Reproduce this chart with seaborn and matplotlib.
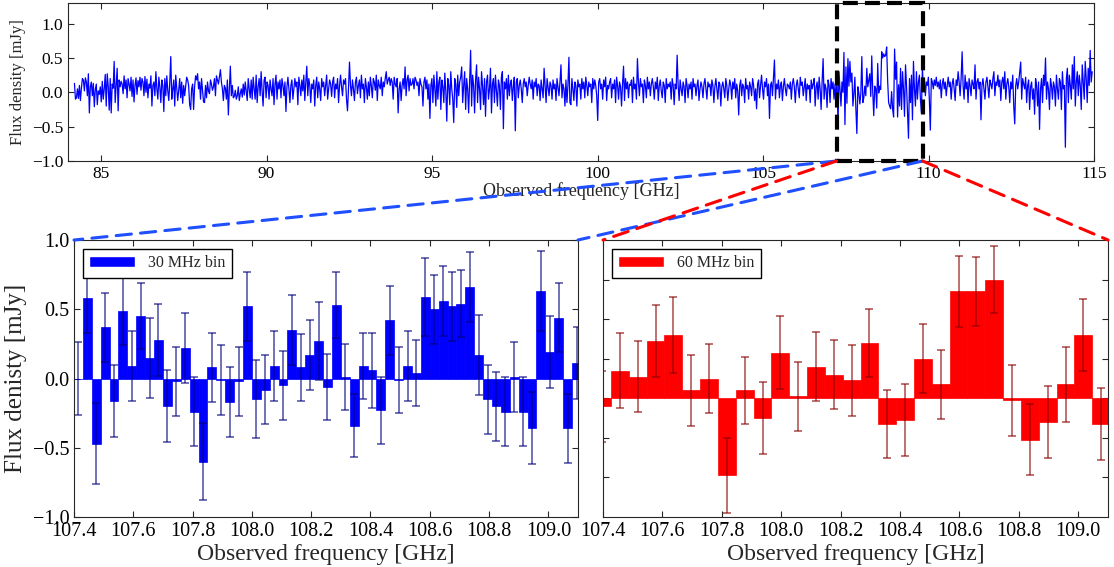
import numpy as np
import matplotlib
matplotlib.use("Agg")
import matplotlib.pyplot as plt
import seaborn as sns
from matplotlib.patches import Rectangle, Patch, ConnectionPatch

# ---------------- data ----------------
bin30_start = 107.415
bin30_step = 0.03
flux30 = [0.00, 0.58, -0.47, 0.37, -0.16, 0.49, 0.09, 0.45, 0.15, 0.28,
          -0.20, -0.02, 0.22, -0.24, -0.60, 0.08, -0.01, -0.17, -0.02, 0.52,
          -0.15, -0.08, 0.09, -0.05, 0.35, 0.08, 0.17, 0.27, -0.06, 0.53,
          0.01, -0.34, 0.09, 0.06, -0.23, 0.42, -0.01, 0.09, 0.04, 0.59,
          0.50, 0.56, 0.52, 0.54, 0.66, 0.17, -0.15, -0.20, -0.24, 0.01,
          -0.24, -0.36, 0.63, 0.19, 0.44, -0.36, 0.11]
err30 = [0.26, 0.25, 0.29, 0.25, 0.26, 0.25, 0.25, 0.24, 0.29, 0.26,
         0.26, 0.25, 0.25, 0.25, 0.28, 0.25, 0.25, 0.25, 0.25, 0.25,
         0.28, 0.25, 0.25, 0.25, 0.25, 0.24, 0.25, 0.28, 0.24, 0.24,
         0.24, 0.23, 0.24, 0.27, 0.24, 0.25, 0.24, 0.25, 0.24, 0.28,
         0.25, 0.25, 0.25, 0.24, 0.25, 0.29, 0.25, 0.25, 0.25, 0.25,
         0.25, 0.26, 0.29, 0.26, 0.25, 0.25, 0.26]

bin60_start = 107.397
bin60_step = 0.06
flux60 = [-0.04, 0.14, 0.11, 0.29, 0.32, 0.04, 0.10, -0.39, 0.04, -0.10,
          0.23, 0.01, 0.16, 0.12, 0.09, 0.28, -0.13, -0.11, 0.20, 0.07,
          0.54, 0.54, 0.60, -0.01, -0.21, -0.12, 0.07, 0.32, -0.13]
err60 = [0.18, 0.19, 0.18, 0.18, 0.19, 0.18, 0.175, 0.19, 0.17, 0.18,
         0.185, 0.175, 0.175, 0.175, 0.18, 0.17, 0.17, 0.18, 0.175, 0.175,
         0.18, 0.175, 0.17, 0.18, 0.18, 0.18, 0.19, 0.18, 0.18]

# full spectrum (30 MHz channels): part below the zoom bins, the zoom bins, part above
spec_low = [
    0.13, -0.10, -0.08, 0.05, -0.09, 0.10, -0.12, 0.06, 0.20, 0.18, 0.02, 0.21, 0.15, -0.05, 0.27, -0.30, 0.08, 0.15, -0.05, 0.13,
    -0.21, 0.04, 0.12, -0.18, 0.02, -0.03, 0.08, -0.14, 0.16, -0.10, 0.05, 0.26, -0.20, 0.27, 0.09, -0.26, 0.20, -0.30, 0.12, 0.06,
    0.45, -0.15, 0.10, 0.35, -0.27, 0.18, 0.08, 0.16, 0.12, -0.02, 0.24, 0.05, 0.18, -0.08, 0.20, 0.12, 0.02, 0.22, -0.06, 0.18,
    -0.14, 0.10, 0.21, -0.03, 0.17, 0.08, 0.22, 0.03, 0.20, 0.15, -0.05, 0.23, 0.00, 0.19, -0.08, 0.12, 0.06, 0.24, -0.20, 0.10,
    0.15, -0.05, 0.30, 0.05, -0.10, 0.22, 0.08, -0.15, 0.18, 0.10, -0.28, 0.20, -0.05, 0.24, 0.02, -0.12, 0.15, 0.52, -0.10, 0.05,
    0.18, -0.20, 0.25, 0.06, -0.12, 0.03, 0.20, -0.08, 0.15, -0.16, 0.10, -0.05, 0.08, 0.22, 0.18, 0.10, -0.18, -0.25, 0.05, 0.12,
    -0.25, 0.08, 0.24, 0.18, 0.27, 0.05, 0.15, -0.10, 0.20, 0.03, -0.14, -0.15, 0.10, -0.08, 0.15, 0.02, -0.02, 0.18, 0.12, 0.03,
    0.08, 0.20, -0.05, 0.24, 0.18, 0.12, 0.22, 0.33, 0.15, 0.05, -0.12, 0.10, 0.06, -0.10, 0.18, -0.33, 0.05, 0.38, -0.05, 0.10,
    -0.08, -0.06, 0.03, -0.10, -0.05, 0.08, -0.12, -0.02, 0.05, -0.07, 0.12, -0.04, 0.15, 0.02, -0.12, 0.20, 0.05, -0.08, 0.18, -0.10,
    0.22, 0.05, -0.10, 0.25, -0.15, 0.08, 0.20, -0.05, 0.30, 0.02, -0.20, 0.18, 0.22, -0.08, 0.15, 0.10, -0.10, 0.18, 0.05, -0.05,
    0.20, -0.18, 0.12, 0.25, -0.10, 0.15, 0.05, 0.18, -0.08, 0.20, 0.10, -0.05, 0.15, -0.28, 0.08, 0.22, 0.05, -0.15, 0.10, 0.18,
    -0.10, 0.05, 0.20, 0.08, 0.15, -0.18, 0.22, 0.10, -0.05, 0.18, 0.02, 0.25, -0.12, 0.15, 0.38, -0.05, 0.20, 0.10, -0.15, 0.12,
    0.05, 0.18, -0.20, 0.10, 0.22, -0.08, 0.15, 0.05, -0.12, 0.20, 0.08, 0.15, -0.05, 0.10, 0.25, -0.10, 0.05, 0.18, 0.12, -0.06,
    0.15, 0.22, -0.08, 0.12, 0.05, 0.20, -0.15, 0.10, 0.25, 0.08, -0.05, 0.18, 0.12, 0.20, -0.10, -0.27, 0.05, 0.44, 0.10, -0.05,
    0.18, 0.05, -0.12, 0.15, 0.22, -0.02, 0.10, 0.18, -0.08, 0.25, 0.05, 0.12, -0.15, 0.20, 0.08, -0.10, 0.15, -0.05, 0.22, 0.10,
    -0.08, 0.20, 0.15, 0.03, 0.25, -0.12, 0.18, 0.10, 0.05, 0.22, -0.05, 0.15, 0.08, 0.20, 0.30, 0.12, 0.18, 0.22, 0.10, 0.20,
    0.15, -0.10, 0.22, 0.12, 0.08, 0.20, -0.30, 0.05, 0.15, -0.12, 0.10, 0.20, 0.05, 0.37, -0.05, 0.18, 0.25, 0.02, 0.20, 0.10,
    0.12, 0.20, 0.05, 0.22, 0.18, 0.10, 0.15, -0.05, 0.20, 0.12, 0.08, -0.20, 0.15, 0.22, 0.05, 0.18, -0.10, 0.12, -0.38, 0.10,
    0.20, -0.15, 0.25, 0.05, -0.20, 0.30, -0.10, 0.15, 0.22, -0.25, 0.18, 0.08, -0.15, 0.28, 0.02, -0.42, 0.20, 0.10, -0.18, 0.30,
    0.05, -0.10, -0.44, 0.20, 0.12, -0.22, 0.25, -0.05, 0.15, 0.22, 0.37, -0.15, 0.10, 0.30, -0.25, 0.20, 0.05, -0.30, 0.15, 0.61,
    -0.20, 0.25, 0.10, -0.30, 0.18, 0.40, -0.15, 0.22, 0.05, -0.25, 0.30, 0.10, -0.18, 0.20, -0.35, 0.15, 0.25, -0.10, 0.05, 0.35,
    -0.30, 0.12, 0.20, -0.15, 0.25, 0.02, -0.20, 0.18, 0.10, -0.25, 0.22, 0.30, -0.53, 0.15, 0.05, 0.20, -0.10, 0.25, -0.05, 0.12,
    0.18, -0.12, 0.08, 0.22, -0.56, 0.15, 0.20, -0.08, 0.10, 0.18, 0.05, -0.15, 0.12, 0.20, 0.08, 0.15, -0.05, 0.10, 0.22, 0.12,
    0.05, 0.18, -0.10, 0.15, 0.08, 0.20, -0.05, 0.12, 0.10, -0.12, 0.18, 0.05, -0.08, 0.35, 0.10, -0.15, 0.20, 0.08, -0.05, 0.15,
    0.10, -0.10, 0.18, 0.05, 0.12, -0.12, 0.20, 0.08, -0.05, 0.15, 0.40, -0.08, 0.12, 0.05, -0.20, 0.18, -0.15, 0.10, 0.51, -0.15,
    -0.18, 0.20, 0.05, -0.12, 0.15, 0.10, -0.20, 0.18, 0.08, 0.12, -0.10, 0.20, 0.05, 0.15, -0.08, 0.22, 0.10, -0.05, 0.15, 0.08,
    0.12, -0.15, 0.20, 0.05, 0.18, 0.10, -0.05, -0.41, 0.15, 0.20, 0.05, 0.12, -0.10, 0.18, 0.08, 0.22, -0.12, 0.10, 0.05, 0.15,
    0.20, -0.08, 0.12, 0.05, 0.18, -0.15, 0.22, 0.10, -0.10, 0.15, 0.08, -0.20, 0.12, 0.38, -0.12, 0.20, 0.05, 0.15, -0.08, 0.12,
    0.10, 0.18, -0.15, 0.22, 0.05, 0.12, -0.10, 0.49, 0.15, -0.05, 0.20, 0.08, 0.12, -0.15, 0.18, 0.10, -0.08, 0.22, 0.05, 0.15,
    -0.05, 0.12, 0.20, 0.08, -0.10, 0.15, 0.05, 0.22, -0.12, 0.10, 0.18, 0.02, -0.08, 0.15, 0.10, -0.15, 0.20, 0.05, 0.12, 0.08,
    0.15, -0.10, 0.20, 0.10, -0.18, 0.12, 0.05, 0.54, 0.10, -0.12, 0.18, 0.05, -0.05, 0.15, 0.08, -0.15, 0.20, 0.10, -0.08, 0.12,
    0.05, 0.15, -0.10, 0.20, 0.08, 0.12, -0.05, 0.10, 0.18, -0.12, 0.05, 0.15, 0.08, -0.08, 0.12, 0.20, 0.05, -0.10, 0.15, 0.08,
    0.12, -0.05, 0.18, 0.10, -0.15, 0.08, 0.20, 0.05, -0.10, 0.15, 0.12, -0.20, 0.08, 0.15, 0.05, -0.08, 0.20, 0.10, -0.12, 0.05,
    0.18, 0.10, -0.10, 0.15, 0.05, 0.20, -0.08, 0.12, 0.02, -0.33, 0.10, 0.18, -0.05, 0.12, 0.08, -0.15, 0.20, 0.05, 0.10, -0.10,
    0.15, 0.08, -0.05, 0.20, 0.10, -0.12, 0.05, -0.24, 0.12, 0.18, -0.08, 0.10, 0.25, 0.05, -0.10, 0.15, 0.08, 0.20, -0.05, 0.12,
    -0.38, 0.10, 0.15, -0.05, 0.20, 0.47, -0.10, 0.12, 0.05, 0.18, -0.08, 0.10, 0.15, -0.12, 0.08, 0.20, 0.05, -0.05, 0.12, 0.10,
    0.05, 0.15, -0.10, 0.12, 0.20, 0.08, -0.15, 0.10, 0.18, 0.05, -0.08, 0.22, 0.10, 0.15, -0.05, 0.08, 0.20, -0.12, 0.12, 0.05,
    0.10, -0.15, 0.18, 0.05, 0.12, 0.20, -0.20, 0.08, 0.15, -0.10, 0.22, 0.05, -0.25, 0.15, 0.49, -0.10, 0.12, 0.05, -0.22, 0.18,
    0.10, -0.15, 0.20, 0.05, 0.15, -0.10, 0.12, -0.18, 0.22, -0.50, 0.30, 0.05, -0.20, 0.15,
]
spec_high = [
    -0.20, 0.35, -0.25, 0.30, 0.05, -0.35, 0.40, 0.10, -0.30, -0.67, 0.20, -0.15, 0.25, -0.40, 0.45, 0.05, -0.20, 0.30, -0.10, 0.15,
    0.25, -0.10, -0.30, 0.35, 0.05, 0.20, -0.05, 0.15, 0.10, 0.22, -0.10, -0.55, 0.20, 0.15, 0.05, 0.18, 0.10, 0.22, 0.08, 0.15,
    0.05, 0.18, -0.08, 0.12, 0.20, 0.05, 0.15, -0.05, 0.10, 0.22, 0.08, 0.15, -0.10, 0.12, 0.20, 0.05, -0.12, 0.18, 0.10, 0.30,
    0.15, -0.05, 0.20, 0.59, 0.10, -0.10, 0.25, 0.05, 0.15, -0.15, 0.20, 0.10, -0.05, 0.18, 0.12, 0.05, 0.40, -0.10, 0.15, 0.20,
    0.05, 0.15, -0.40, 0.10, 0.20, 0.05, -0.10, 0.15, 0.22, 0.08, -0.08, 0.18, 0.12, 0.05, 0.20, 0.30, -0.05, 0.15, 0.10, 0.25,
    0.08, 0.18, -0.12, 0.15, 0.22, 0.05, 0.30, -0.10, 0.12, 0.20, 0.08, -0.15, 0.15, 0.05, 0.25, -0.20, -0.46, 0.10, 0.20, 0.05,
    0.15, 0.30, 0.44, -0.10, 0.20, 0.12, 0.05, 0.22, -0.15, 0.10, 0.18, -0.25, 0.08, 0.15, -0.10, 0.05, -0.32, 0.20, 0.10, -0.20,
    0.15, -0.54, 0.05, 0.20, -0.15, 0.25, 0.10, 0.50, -0.10, 0.15, 0.05, -0.25, 0.20, 0.10, -0.10, 0.15, 0.08, -0.20, 0.25, 0.05,
    -0.10, 0.20, 0.15, -0.25, 0.30, 0.05, 0.10, -0.80, 0.20, 0.35, -0.15, 0.25, 0.10, -0.10, 0.40, 0.05, 0.52, -0.20, 0.15, 0.30,
    -0.05, 0.25, 0.10, -0.25, 0.40, 0.15, -0.10, 0.45, 0.20, -0.15, 0.35, 0.10, 0.61, 0.15, 0.30,
]

zoom_box = (107.22, 109.82)   # dashed box in the top panel [GHz]

# ---------------- derived ----------------
f30 = np.round(bin30_start + bin30_step * np.arange(len(flux30)), 4)
f60 = np.round(bin60_start + bin60_step * np.arange(len(flux60)), 4)
spec_vals = np.array(spec_low + flux30 + spec_high)
spec_freq = bin30_start + bin30_step * (np.arange(len(spec_vals)) - len(spec_low))

# ---------------- style ----------------
sns.set_style("ticks", {"xtick.direction": "in", "ytick.direction": "in",
                        "axes.edgecolor": "0.15"})
plt.rcParams["font.family"] = ["Liberation Serif", "DejaVu Serif"]
plt.rcParams["mathtext.fontset"] = "stix"
plt.rcParams["xtick.top"] = True
plt.rcParams["ytick.right"] = True
plt.rcParams["xtick.major.size"] = 4
plt.rcParams["ytick.major.size"] = 4
plt.rcParams["xtick.color"] = "0.15"
plt.rcParams["ytick.color"] = "0.15"
plt.rcParams["xtick.labelcolor"] = "black"
plt.rcParams["ytick.labelcolor"] = "black"

W, H = 1114, 567
fig = plt.figure(figsize=(W / 100, H / 100), dpi=100)

ax_top = fig.add_axes([68 / W, 1 - 161 / H, (1094 - 68) / W, (161 - 3) / H])
ax_bl = fig.add_axes([74 / W, 1 - 517 / H, (578 - 74) / W, (517 - 240) / H])
ax_br = fig.add_axes([603 / W, 1 - 517 / H, (1108 - 603) / W, (517 - 240) / H])

# ---- top: full spectrum ----
sns.lineplot(x=spec_freq, y=spec_vals, ax=ax_top, color="blue", lw=0.9,
             estimator=None, sort=False)
ax_top.set_xlim(84, 115)
ax_top.set_ylim(-1.0, 1.3)
ax_top.set_yticks([-1.0, -0.5, 0.0, 0.5, 1.0])
ax_top.set_xticks([85, 90, 95, 100, 105, 110, 115])
ax_top.tick_params(labelsize=12.5)
ax_top.set_xlabel("Observed frequency [GHz]", fontsize=13, labelpad=0)
ax_top.set_ylabel("Flux density [mJy]", fontsize=12)
ax_top.add_patch(Rectangle((zoom_box[0], -1.0), zoom_box[1] - zoom_box[0], 2.3,
                           fill=False, ec="black", lw=3, ls=(0, (3.6, 1.7)),
                           clip_on=False, zorder=5))

# ---- bottom left: 30 MHz bins ----
sns.barplot(x=f30, y=flux30, ax=ax_bl, native_scale=True, orient="x",
            width=1.0, color="blue", saturation=1, linewidth=0.5,
            edgecolor="blue", errorbar=None)
ax_bl.errorbar(f30, flux30, yerr=err30, fmt="none", ecolor="navy", alpha=0.6,
               elinewidth=1.3, capsize=2.6, capthick=1.3)
ax_bl.set_xlim(107.4, 109.1)
ax_bl.set_ylim(-1.0, 1.0)
ax_bl.set_yticks([-1.0, -0.5, 0.0, 0.5, 1.0])
ax_bl.set_xticks([107.4, 107.6, 107.8, 108.0, 108.2, 108.4, 108.6, 108.8, 109.0])
ax_bl.set_xticklabels([f"{t:.1f}" for t in ax_bl.get_xticks()])
ax_bl.tick_params(labelsize=14.5)
ax_bl.set_xlabel("Observed frequency [GHz]", fontsize=17, labelpad=2)
ax_bl.set_ylabel("Flux denisty [mJy]", fontsize=18)
leg = ax_bl.legend(handles=[Patch(facecolor="blue", label="30 MHz bin")],
                   loc="upper left", fontsize=11.5, fancybox=False,
                   edgecolor="black", framealpha=1, handlelength=2.9,
                   borderaxespad=0.55)
leg.get_frame().set_linewidth(1.0)

# ---- bottom right: 60 MHz bins ----
sns.barplot(x=f60, y=flux60, ax=ax_br, native_scale=True, orient="x",
            width=1.0, color="red", saturation=1, linewidth=0.5,
            edgecolor="red", errorbar=None)
ax_br.errorbar(f60, flux60, yerr=err60, fmt="none", ecolor="darkred", alpha=0.6,
               elinewidth=1.3, capsize=2.6, capthick=1.3)
ax_br.set_xlim(107.4, 109.1)
ax_br.set_ylim(-0.6, 0.8)
ax_br.set_yticks([-0.4, -0.2, 0.0, 0.2, 0.4, 0.6])
ax_br.set_yticklabels([])
ax_br.set_xticks([107.4, 107.6, 107.8, 108.0, 108.2, 108.4, 108.6, 108.8, 109.0])
ax_br.set_xticklabels([f"{t:.1f}" for t in ax_br.get_xticks()])
ax_br.tick_params(labelsize=14.5)
ax_br.set_xlabel("Observed frequency [GHz]", fontsize=17, labelpad=2)
ax_br.set_ylabel("")
leg2 = ax_br.legend(handles=[Patch(facecolor="red", label="60 MHz bin")],
                    loc="upper left", fontsize=11.5, fancybox=False,
                    edgecolor="black", framealpha=1, handlelength=2.9,
                    borderaxespad=0.55)
leg2.get_frame().set_linewidth(1.0)

# ---- zoom connectors ----
dash = (0, (5, 3))
for xa, target, xb, col in [(zoom_box[0], ax_bl, 0, "#1f4fff"),
                            (zoom_box[1], ax_bl, 1, "#1f4fff"),
                            (zoom_box[0], ax_br, 0, "red"),
                            (zoom_box[1], ax_br, 1, "red")]:
    con = ConnectionPatch(xyA=(xa, -1.0), coordsA=ax_top.transData,
                          xyB=(xb, 1.0), coordsB=target.transAxes,
                          color=col, lw=2.2, linestyle=dash, zorder=1)
    fig.add_artist(con)

fig.savefig("out.png", dpi=100)
